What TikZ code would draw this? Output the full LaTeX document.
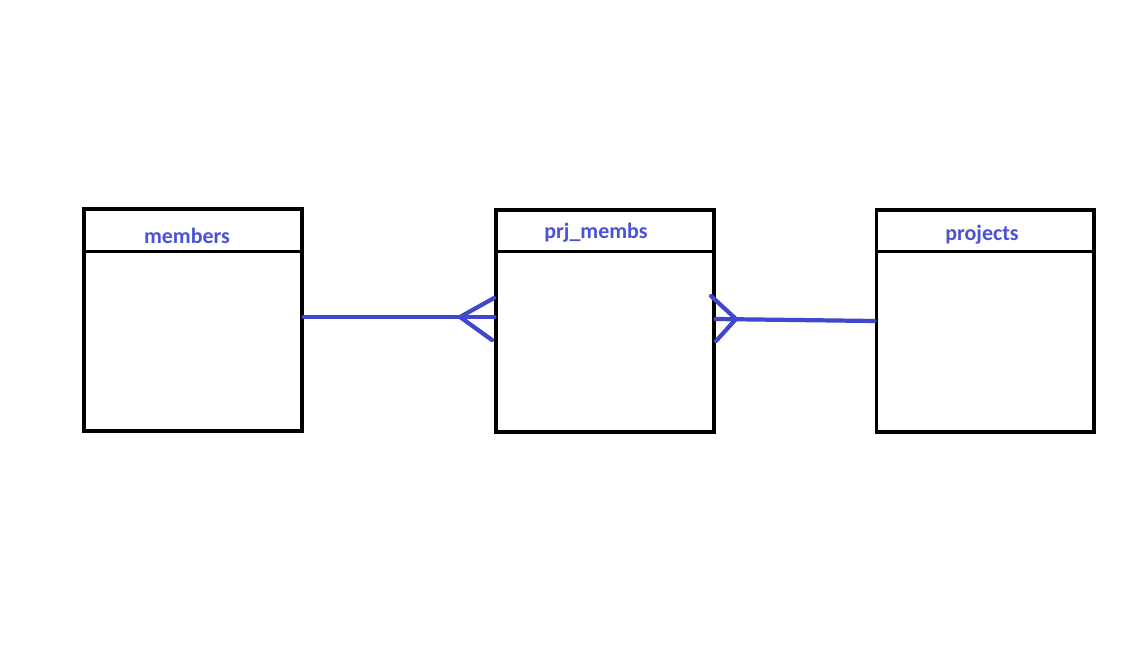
\documentclass[tikz,border=0pt]{standalone}
\usepackage{fontspec}
\setmainfont{Carlito}
\usetikzlibrary{calc}
\definecolor{rel}{HTML}{3F48CC}
\definecolor{tname}{HTML}{4A53D2}
\tikzset{
  tbl/.style={draw=black, line width=1.75pt, minimum width=4.36cm, minimum height=4.44cm, inner sep=0pt},
  hdr/.style={draw=black, line width=1.75pt},
  relline/.style={draw=rel, line width=2.4pt, line cap=round},
  tlabel/.style={text=tname, font=\fontsize{12.5}{15}\selectfont\bfseries}
}
\begin{document}
\begin{tikzpicture}[x=0.02cm, y=-0.02cm]
  \useasboundingbox (0,0) rectangle (1141,648);

  \node[tbl] (members) at (193,320) {};
  \node[tbl] (prjmembs) at (605,321) {};
  \node[tbl] (projects) at (985,321) {};

  \draw[hdr] ($(members.north west)+(0,44)$) -- ($(members.north east)+(0,44)$);
  \draw[hdr] ($(prjmembs.north west)+(0,43)$) -- ($(prjmembs.north east)+(0,43)$);
  \draw[hdr] ($(projects.north west)+(0,43)$) -- ($(projects.north east)+(0,43)$);

  \node[tlabel] (memberslbl) at (187,236) {members};
  \node[tlabel] (prjmembslbl) at (596,233) {prj\_membs};
  \node[tlabel] (projectslbl) at (982,235) {projects};

  % many side at prj_membs
  \coordinate (lfoot) at (460,317);
  \draw[relline] ([yshift=0.06cm]members.east) -- ([yshift=0.08cm]prjmembs.west);
  \draw[relline] (494,298) -- (lfoot) -- (492,340);

  \coordinate (rfoot) at (736,319);
  \draw[relline] ([yshift=0.04cm]prjmembs.east) -- (projects.west);
  \draw[relline] (711,296) -- (rfoot) -- (716,341);
\end{tikzpicture}
\end{document}
